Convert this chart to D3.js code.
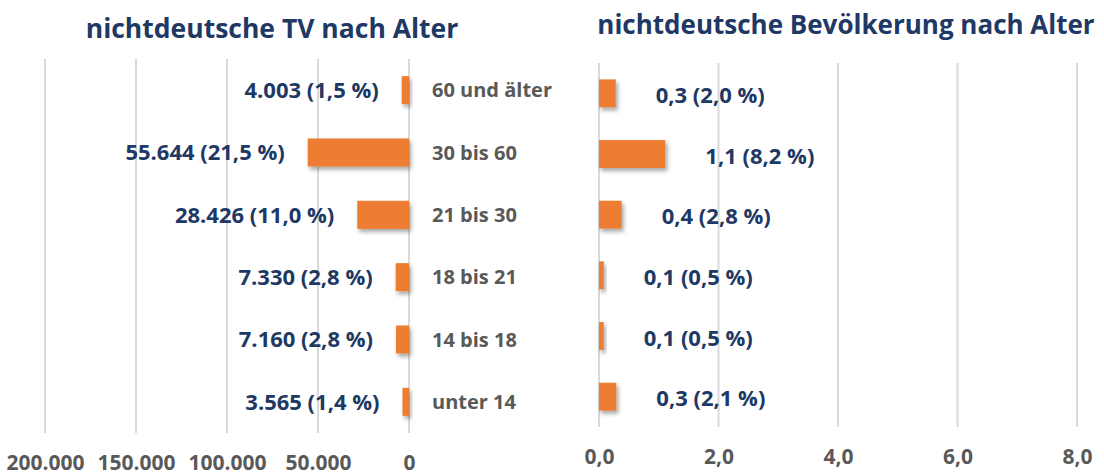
<!DOCTYPE html>
<html>
<head>
<meta charset="utf-8">
<script src="https://cdn.jsdelivr.net/npm/d3@7"></script>
<style>
  body { margin: 0; background: #fff; }
  text { font-family: "Open Sans", sans-serif; font-weight: 700; }
</style>
</head>
<body>
<svg id="chart" width="1104" height="476"></svg>
<script>
// Altersgruppen (von oben nach unten)
var gruppen = ["60 und älter", "30 bis 60", "21 bis 30", "18 bis 21", "14 bis 18", "unter 14"];

// nichtdeutsche TV (Anzahl und Anteil)
var tvWerte = [4003, 55644, 28426, 7330, 7160, 3565];
var tvProzent = [1.5, 21.5, 11.0, 2.8, 2.8, 1.4];

// nichtdeutsche Bevölkerung (Wert und Anteil)
var bevWerte = [0.28, 1.11, 0.38, 0.08, 0.08, 0.29];
var bevProzent = [2.0, 8.2, 2.8, 0.5, 0.5, 2.1];

// Achsenbeschriftungen
var tvTicks = [0, 50000, 100000, 150000, 200000];
var bevTicks = [0, 2, 4, 6, 8];

var de = d3.formatLocale({decimal: ",", thousands: ".", grouping: [3], currency: ["", " €"]});
var fmtTausend = de.format(",.0f");
var fmt1 = de.format(".1f");

var navy = "#203864", grau = "#595959", orange = "#ED7D31", gitter = "#D9D9D9";

var svg = d3.select("#chart");

// Schatten unter den Balken
var filter = svg.append("defs").append("filter")
  .attr("id", "schatten").attr("x", "-50%").attr("y", "-50%")
  .attr("width", "200%").attr("height", "200%");
filter.append("feDropShadow")
  .attr("dx", 2).attr("dy", 3).attr("stdDeviation", 2)
  .attr("flood-color", "#000").attr("flood-opacity", 0.35);

// ---------- linkes Diagramm: TV ----------
var xL = d3.scaleLinear().domain([0, 200000]).range([409, 45]);
var yL = d3.scaleBand().domain(gruppen).range([59, 433]).paddingInner(0.55).paddingOuter(0.275);

svg.append("text")
  .attr("x", 272).attr("y", 38)
  .attr("text-anchor", "middle")
  .attr("fill", navy).style("font-size", "26.5px")
  .text("nichtdeutsche TV nach Alter");

svg.append("g").selectAll("line").data(tvTicks).enter().append("line")
  .attr("x1", function(d){ return xL(d); }).attr("x2", function(d){ return xL(d); })
  .attr("y1", 59).attr("y2", 433)
  .attr("stroke", gitter).attr("stroke-width", 2);

var axL = svg.append("g")
  .attr("transform", "translate(0,455)")
  .call(d3.axisBottom(xL).tickValues(tvTicks).tickFormat(fmtTausend).tickSize(0));
axL.select(".domain").remove();
axL.selectAll("text").attr("fill", grau).style("font-size", "21px")
  .attr("dy", "0.71em").attr("y", 0);

svg.append("g").selectAll("rect").data(tvWerte).enter().append("rect")
  .attr("x", function(d){ return xL(d); })
  .attr("y", function(d, i){ return yL(gruppen[i]); })
  .attr("width", function(d){ return xL(0) - xL(d); })
  .attr("height", yL.bandwidth())
  .attr("fill", orange)
  .attr("filter", "url(#schatten)");

svg.append("g").selectAll("text").data(tvWerte).enter().append("text")
  .attr("x", function(d){ return xL(d) - 23; })
  .attr("y", function(d, i){ return yL(gruppen[i]) + yL.bandwidth() / 2; })
  .attr("dy", "0.35em")
  .attr("text-anchor", "end")
  .attr("fill", navy).style("font-size", "22px")
  .text(function(d, i){ return fmtTausend(d) + " (" + fmt1(tvProzent[i]) + " %)"; });

// Kategorien in der Mitte
svg.append("g").selectAll("text").data(gruppen).enter().append("text")
  .attr("x", 432)
  .attr("y", function(d){ return yL(d) + yL.bandwidth() / 2; })
  .attr("dy", "0.35em")
  .attr("fill", grau).style("font-size", "20px")
  .text(function(d){ return d; });

// ---------- rechtes Diagramm: Bevölkerung ----------
var xR = d3.scaleLinear().domain([0, 8]).range([599, 1077]);
var yR = d3.scaleBand().domain(gruppen).range([63, 427]).paddingInner(0.54).paddingOuter(0.27);

svg.append("text")
  .attr("x", 846).attr("y", 34)
  .attr("text-anchor", "middle")
  .attr("fill", navy).style("font-size", "26px")
  .text("nichtdeutsche Bevölkerung nach Alter");

svg.append("g").selectAll("line").data(bevTicks).enter().append("line")
  .attr("x1", function(d){ return xR(d); }).attr("x2", function(d){ return xR(d); })
  .attr("y1", 63).attr("y2", 427)
  .attr("stroke", gitter).attr("stroke-width", 2);

var axR = svg.append("g")
  .attr("transform", "translate(0,449)")
  .call(d3.axisBottom(xR).tickValues(bevTicks).tickFormat(fmt1).tickSize(0));
axR.select(".domain").remove();
axR.selectAll("text").attr("fill", grau).style("font-size", "21px")
  .attr("dy", "0.71em").attr("y", 0);

svg.append("g").selectAll("rect").data(bevWerte).enter().append("rect")
  .attr("x", xR(0))
  .attr("y", function(d, i){ return yR(gruppen[i]); })
  .attr("width", function(d){ return xR(d) - xR(0); })
  .attr("height", yR.bandwidth())
  .attr("fill", orange)
  .attr("filter", "url(#schatten)");

svg.append("g").selectAll("text").data(bevWerte).enter().append("text")
  .attr("x", function(d){ return xR(d) + 40; })
  .attr("y", function(d, i){ return yR(gruppen[i]) + yR.bandwidth() / 2 + 2; })
  .attr("dy", "0.35em")
  .attr("fill", navy).style("font-size", "22px")
  .text(function(d, i){ return fmt1(d) + " (" + fmt1(bevProzent[i]) + " %)"; });
</script>
</body>
</html>
